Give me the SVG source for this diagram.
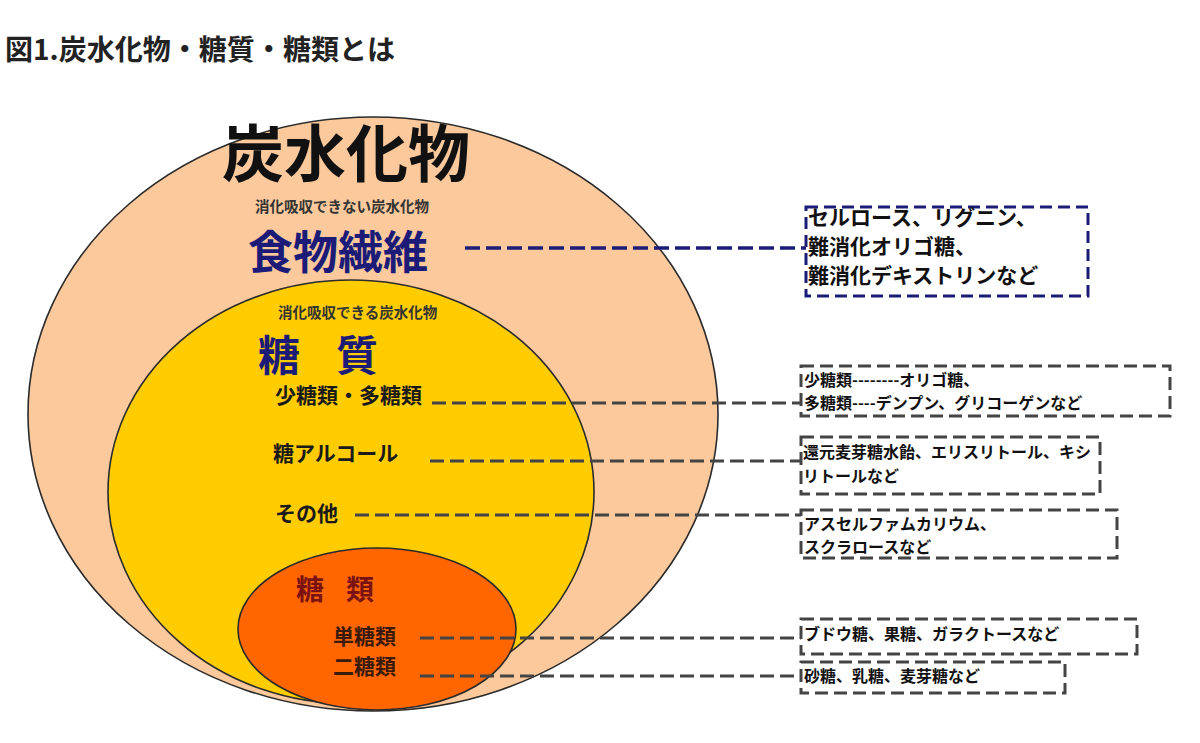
<svg xmlns="http://www.w3.org/2000/svg" width="1200" height="743" viewBox="0 0 1200 743">
<style>
text{font-family:"Noto Sans CJK JP","Liberation Sans",sans-serif;}
.ell{stroke:#2a2a2a;stroke-width:1.6;}
.lbl{font-weight:bold;fill:#1a1a1a;font-size:21px;}
.sm{font-weight:bold;fill:#333;font-size:14.5px;}
.navy{fill:#1c1c78;font-weight:bold;}
.box{fill:none;stroke:#444;stroke-width:3;stroke-dasharray:13 6;}
.bt{fill:#111;font-size:16px;font-weight:600;}
.con{stroke:#444;stroke-width:3;stroke-dasharray:14 6;fill:none;}
</style>
<rect width="1200" height="743" fill="#fff"/>
<text x="5" y="60" font-size="28" font-weight="bold" fill="#222" textLength="390" lengthAdjust="spacingAndGlyphs">図1.炭水化物・糖質・糖類とは</text>

<g id="carb">
<ellipse class="ell" cx="373" cy="414" rx="345" ry="297" fill="#FBC99C"/>
<text x="222" y="177" font-size="62" font-weight="bold" fill="#111">炭水化物</text>
<text class="sm" x="255" y="212">消化吸収できない炭水化物</text>
</g>
<g id="fiber">
<text class="navy" x="248" y="269" font-size="45">食物繊維</text>
</g>
<g id="sugar">
<ellipse class="ell" cx="351" cy="492" rx="243" ry="212" fill="#FFCC00"/>
<text class="sm" x="278" y="318">消化吸収できる炭水化物</text>
<text class="navy" x="258" y="371" font-size="42" textLength="120" lengthAdjust="spacing">糖　質</text>
<text class="lbl" x="275" y="403">少糖類・多糖類</text>
<text class="lbl" x="273" y="461">糖アルコール</text>
<text class="lbl" x="275" y="521">その他</text>
</g>
<g id="saccharides">
<ellipse class="ell" cx="377" cy="629" rx="139" ry="81" fill="#FF6600"/>
<text x="296" y="600" font-size="28" font-weight="bold" fill="#7a1212" textLength="78" lengthAdjust="spacing">糖　類</text>
<text x="333" y="644" font-size="21" font-weight="bold" fill="#3a1a0a">単糖類</text>
<text x="333" y="674" font-size="21" font-weight="bold" fill="#3a1a0a">二糖類</text>
</g>

<g id="connectors">
<line x1="465" y1="248" x2="806" y2="248" stroke="#1c1c78" stroke-width="3.5" stroke-dasharray="15 6"/>
<line class="con" x1="432" y1="403" x2="801" y2="403"/>
<line class="con" x1="430" y1="461" x2="801" y2="461"/>
<line class="con" x1="355" y1="515" x2="801" y2="515"/>
<line class="con" x1="420" y1="638" x2="801" y2="638"/>
<line class="con" x1="420" y1="676" x2="801" y2="676"/>
</g>

<g id="box-fiber">
<rect x="806" y="207" width="282" height="89" fill="none" stroke="#1c1c78" stroke-width="3" stroke-dasharray="12 6"/>
<text x="808" y="225" font-size="21" font-weight="600" fill="#111">セルロース、リグニン、</text>
<text x="808" y="254" font-size="21" font-weight="600" fill="#111">難消化オリゴ糖、</text>
<text x="808" y="283" font-size="21" font-weight="600" fill="#111">難消化デキストリンなど</text>
</g>
<g id="box-poly">
<rect class="box" x="801" y="366" width="369" height="50"/>
<text class="bt" x="804" y="386">少糖類--------オリゴ糖、</text>
<text class="bt" x="804" y="409">多糖類----デンプン、グリコーゲンなど</text>
</g>
<g id="box-alcohol">
<rect class="box" x="801" y="437" width="299" height="57"/>
<text class="bt" x="803" y="458">還元麦芽糖水飴、エリスリトール、キシ</text>
<text class="bt" x="803" y="482">リトールなど</text>
</g>
<g id="box-other">
<rect class="box" x="801" y="510" width="316" height="48"/>
<text class="bt" x="804" y="530">アスセルファムカリウム、</text>
<text class="bt" x="804" y="553">スクラロースなど</text>
</g>
<g id="box-mono">
<rect class="box" x="801" y="619" width="336" height="35"/>
<text class="bt" x="804" y="640">ブドウ糖、果糖、ガラクトースなど</text>
</g>
<g id="box-di">
<rect class="box" x="801" y="662" width="264" height="31"/>
<text class="bt" x="804" y="682">砂糖、乳糖、麦芽糖など</text>
</g>
</svg>
